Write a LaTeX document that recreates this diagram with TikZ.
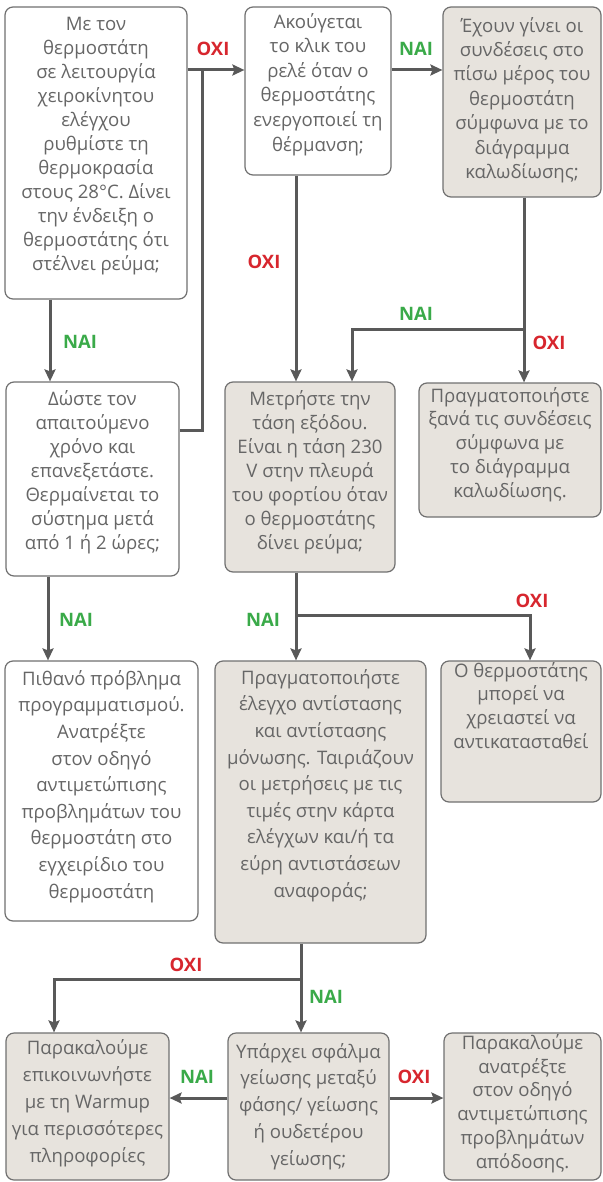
\documentclass[tikz,border=0pt]{standalone}
\usepackage{fontspec}
\setmainfont{Open Sans}
\usetikzlibrary{arrows.meta}
\definecolor{boxline}{HTML}{707070}
\definecolor{boxfill}{HTML}{E7E3DD}
\definecolor{txtgray}{HTML}{666666}
\definecolor{wire}{HTML}{595959}
\definecolor{yesgreen}{HTML}{3AAA49}
\definecolor{nored}{HTML}{D7262E}
\tikzset{
  card/.style={draw=boxline, line width=1.2pt, rounded corners=8pt, fill=white, inner sep=0pt},
  tan/.style={card, fill=boxfill},
  txt/.style={anchor=north, inner sep=0pt, align=center, text=txtgray,
    font=\fontsize{18.6}{#1}\selectfont},
  wireline/.style={draw=wire, line width=3pt},
  arr/.style={wireline, -{Stealth[length=12pt, width=11pt, inset=2pt]}},
  yes/.style={text=yesgreen, font=\fontsize{18.5}{20}\selectfont\bfseries, inner sep=0pt},
  no/.style={text=nored, font=\fontsize{18.5}{20}\selectfont\bfseries, inner sep=0pt},
}
\begin{document}
\begin{tikzpicture}[x=1pt, y=-1pt]
\useasboundingbox (0,0) rectangle (602,1182);

% boxes
\node[card, minimum width=182pt, minimum height=292pt] (b1) at (96,153) {};
\node[card, minimum width=146pt, minimum height=168pt] (b2) at (318,91) {};
\node[tan,  minimum width=158pt, minimum height=190pt] (b3) at (522,102) {};
\node[card, minimum width=173pt, minimum height=194pt] (b4) at (92.5,479) {};
\node[tan,  minimum width=170pt, minimum height=190pt] (b5) at (310,477) {};
\node[tan,  minimum width=182pt, minimum height=134pt] (b6) at (510,450) {};
\node[card, minimum width=193pt, minimum height=260pt] (b7) at (101.5,791) {};
\node[tan,  minimum width=211pt, minimum height=282pt] (b8) at (320.5,802) {};
\node[tan,  minimum width=160pt, minimum height=141pt] (b9) at (521,731.5) {};
\node[tan,  minimum width=163pt, minimum height=147pt] (b10) at (87.5,1106.5) {};
\node[tan,  minimum width=161pt, minimum height=147pt] (b11) at (308.5,1106.5) {};
\node[tan,  minimum width=157pt, minimum height=147pt] (b12) at (522.5,1106.5) {};

% box texts
\node[txt=24] (t1) at (96,17) {Με τον\\θερμοστάτη\\σε λειτουργία\\χειροκίνητου\\ελέγχου\\ρυθμίστε τη\\θερμοκρασία\\στους 28°C. Δίνει\\την ένδειξη ο\\θερμοστάτης ότι\\στέλνει ρεύμα;};
\node[txt=24.6] (t2) at (318,13) {Ακούγεται\\το κλικ του\\ρελέ όταν ο\\θερμοστάτης\\ενεργοποιεί τη\\θέρμανση;};
\node[txt=24.4] (t3) at (522,17) {Έχουν γίνει οι\\συνδέσεις στο\\πίσω μέρος του\\θερμοστάτη\\σύμφωνα με το\\διάγραμμα\\καλωδίωσης;};
\node[txt=24] (t4) at (92.5,390) {Δώστε τον\\απαιτούμενο\\χρόνο και\\επανεξετάστε.\\Θερμαίνεται το\\σύστημα μετά\\από 1 ή 2 ώρες;};
\node[txt=24] (t5) at (310,390) {Μετρήστε την\\τάση εξόδου.\\Είναι η τάση 230\\V στην πλευρά\\του φορτίου όταν\\ο θερμοστάτης\\δίνει ρεύμα;};
\node[txt=23.75] (t6) at (510,387) {Πραγματοποιήστε\\ξανά τις συνδέσεις\\σύμφωνα με\\το διάγραμμα\\καλωδίωσης.};
\node[txt=26.6] (t7) at (101.5,670) {Πιθανό πρόβλημα\\προγραμματισμού.\\Ανατρέξτε\\στον οδηγό\\αντιμετώπισης\\προβλημάτων του\\θερμοστάτη στο\\εγχειρίδιο του\\θερμοστάτη};
\node[txt=26.6] (t8) at (320.5,669) {Πραγματοποιήστε\\έλεγχο αντίστασης\\και αντίστασης\\μόνωσης. Ταιριάζουν\\οι μετρήσεις με τις\\τιμές στην κάρτα\\ελέγχων και/ή τα\\εύρη αντιστάσεων\\αναφοράς;};
\node[txt=23.7] (t9) at (521,662) {Ο θερμοστάτης\\μπορεί να\\χρειαστεί να\\αντικατασταθεί};
\node[txt=27] (t10) at (87.5,1039) {Παρακαλούμε\\επικοινωνήστε\\με τη Warmup\\για περισσότερες\\πληροφορίες};
\node[txt=26.7] (t11) at (308.5,1043) {Υπάρχει σφάλμα\\γείωσης μεταξύ\\φάσης/ γείωσης\\ή ουδετέρου\\γείωσης;};
\node[txt=23.8] (t12) at (522.5,1034) {Παρακαλούμε\\ανατρέξτε\\στον οδηγό\\αντιμετώπισης\\προβλημάτων\\απόδοσης.};

% junction points on the connectors
\coordinate (j1) at (202,70);
\coordinate (j2) at (524,329);
\coordinate (j3) at (296,615);
\coordinate (j4) at (301,979);

% connectors
\draw[arr] (b1.east |- j1) -- (b2.west |- j1);
\draw[arr] (b2.east |- j1) -- (b3.west |- j1);
\draw[wireline] ([yshift=49pt]b4.east) -| (j1);
\draw[arr] ([xshift=-46pt]b1.south) -- ([xshift=-42.5pt]b4.north);
\draw[arr] ([xshift=-22pt]b2.south) -- ([xshift=-14pt]b5.north);
\draw[arr] ([xshift=2pt]b3.south) -- ([xshift=14pt]b6.north);
\draw[arr] (j2) -| ([xshift=42pt]b5.north);
\draw[arr] ([xshift=-44.5pt]b4.south) -- ([xshift=-53.5pt]b7.north);
\draw[arr] ([xshift=-14pt]b5.south) -- ([xshift=-24.5pt]b8.north);
\draw[arr] (j3) -| ([xshift=9pt]b9.north);
\draw[arr] ([xshift=-19.5pt]b8.south) -- ([xshift=-7.5pt]b11.north);
\draw[arr] (j4) -| ([xshift=-33.5pt]b10.north);
\draw[arr] ([yshift=8.5pt]b11.west) -- ([yshift=8.5pt]b10.east);
\draw[arr] ([yshift=8.5pt]b11.east) -- ([yshift=8.5pt]b12.west);

% branch labels
\node[no]  (l1)  at (213,49) {ΟΧΙ};
\node[yes] (l2)  at (416,49) {ΝΑΙ};
\node[no]  (l3)  at (264,262) {ΟΧΙ};
\node[yes] (l4)  at (80,342) {ΝΑΙ};
\node[yes] (l5)  at (416,314) {ΝΑΙ};
\node[no]  (l6)  at (549,343) {ΟΧΙ};
\node[yes] (l7)  at (76,620) {ΝΑΙ};
\node[yes] (l8)  at (263,620) {ΝΑΙ};
\node[no]  (l9)  at (532,601) {ΟΧΙ};
\node[no]  (l10) at (186,965) {ΟΧΙ};
\node[yes] (l11) at (326,997) {ΝΑΙ};
\node[yes] (l12) at (197,1077) {ΝΑΙ};
\node[no]  (l13) at (414,1077) {ΟΧΙ};
\end{tikzpicture}
\end{document}
